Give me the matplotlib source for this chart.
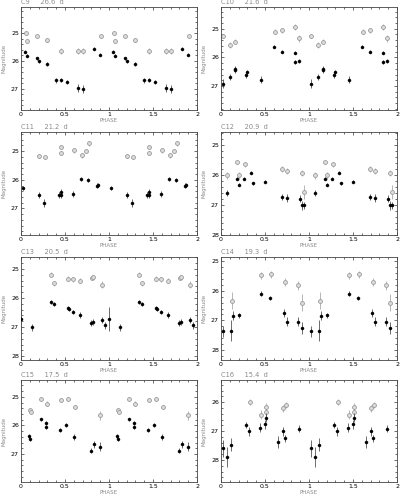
import matplotlib.pyplot as plt
import matplotlib.ticker as mticker
import numpy as np

# panel names and periods
names = ["C9", "C10", "C11", "C12", "C13", "C14", "C15", "C16"]
periods = ["26.6", "21.6", "21.2", "20.9", "20.5", "19.3", "17.5", "15.4"]
ylims = [(27.77, 24.05), (27.84, 24.24), (27.93, 24.33), (28.0, 24.55),
         (28.13, 24.59), (28.35, 24.85), (27.98, 24.41), (28.76, 25.23)]

# black points (phase 0-1, magnitude, error)
c9_ph_b = [0.05, 0.065, 0.18, 0.20, 0.29, 0.40, 0.46, 0.52, 0.65, 0.71, 0.835, 0.90]
c9_mag_b = [25.67, 25.81, 25.90, 26.01, 26.11, 26.70, 26.68, 26.76, 26.98, 27.01, 25.55, 25.77]
c9_err_b = [0.05, 0.05, 0.05, 0.05, 0.06, 0.08, 0.08, 0.06, 0.15, 0.15, 0.04, 0.05]
c9_ph_g = [0.057, 0.07, 0.18, 0.29, 0.46, 0.65, 0.71, 0.91]
c9_mag_g = [25.0, 25.29, 25.10, 25.23, 25.63, 25.63, 25.64, 25.11]
c9_err_g = [0.06, 0.06, 0.07, 0.07, 0.10, 0.10, 0.10, 0.07]

c10_ph_b = [0.027, 0.106, 0.163, 0.163, 0.285, 0.29, 0.45, 0.60, 0.69, 0.84, 0.84, 0.885]
c10_mag_b = [26.92, 26.69, 26.45, 26.40, 26.63, 26.52, 26.78, 25.63, 25.80, 25.84, 26.17, 26.13]
c10_err_b = [0.15, 0.10, 0.10, 0.10, 0.08, 0.08, 0.12, 0.05, 0.05, 0.05, 0.07, 0.06]
c10_ph_g = [0.027, 0.106, 0.163, 0.61, 0.69, 0.84, 0.885]
c10_mag_g = [25.25, 25.57, 25.45, 25.10, 25.06, 24.93, 25.33]
c10_err_g = [0.08, 0.10, 0.08, 0.08, 0.10, 0.10, 0.12]

c11_ph_b = [0.027, 0.205, 0.266, 0.43, 0.45, 0.45, 0.59, 0.68, 0.76, 0.865, 0.87]
c11_mag_b = [26.28, 26.53, 26.81, 26.52, 26.53, 26.42, 26.50, 25.97, 26.01, 26.20, 26.17]
c11_err_b = [0.06, 0.12, 0.14, 0.10, 0.12, 0.10, 0.10, 0.06, 0.06, 0.07, 0.07]
c11_ph_g = [0.21, 0.27, 0.45, 0.45, 0.60, 0.69, 0.735, 0.77]
c11_mag_g = [25.17, 25.20, 24.86, 25.06, 24.97, 25.15, 24.98, 24.73]
c11_err_g = [0.08, 0.08, 0.08, 0.08, 0.08, 0.08, 0.07, 0.08]

c12_ph_b = [0.065, 0.18, 0.205, 0.265, 0.34, 0.36, 0.50, 0.695, 0.745, 0.90, 0.92, 0.94]
c12_mag_b = [26.59, 26.11, 26.31, 26.11, 25.92, 26.27, 26.22, 26.72, 26.76, 26.79, 27.0, 27.0]
c12_err_b = [0.10, 0.05, 0.06, 0.06, 0.05, 0.06, 0.05, 0.10, 0.12, 0.12, 0.15, 0.12]
c12_ph_g = [0.07, 0.18, 0.205, 0.27, 0.695, 0.75, 0.92, 0.94]
c12_mag_g = [26.0, 25.55, 26.0, 25.63, 25.80, 25.87, 25.91, 26.56]
c12_err_g = [0.12, 0.07, 0.12, 0.08, 0.10, 0.10, 0.10, 0.25]

c13_ph_b = [0.005, 0.12, 0.34, 0.37, 0.53, 0.54, 0.59, 0.67, 0.80, 0.815, 0.92, 0.95]
c13_mag_b = [26.72, 27.0, 26.14, 26.21, 26.34, 26.37, 26.47, 26.58, 26.87, 26.82, 26.76, 26.94]
c13_err_b = [0.40, 0.12, 0.06, 0.06, 0.07, 0.07, 0.07, 0.10, 0.10, 0.10, 0.10, 0.12]
c13_ph_g = [0.34, 0.37, 0.53, 0.59, 0.67, 0.81, 0.815, 0.92]
c13_mag_g = [25.20, 25.50, 25.33, 25.36, 25.40, 25.30, 25.28, 25.55]
c13_err_g = [0.08, 0.10, 0.10, 0.08, 0.10, 0.08, 0.08, 0.12]

c14_ph_b = [0.027, 0.11, 0.133, 0.20, 0.46, 0.56, 0.72, 0.755, 0.87, 0.915]
c14_mag_b = [27.38, 27.35, 26.85, 26.83, 26.10, 26.25, 26.75, 27.05, 27.05, 27.27]
c14_err_b = [0.20, 0.35, 0.15, 0.08, 0.08, 0.07, 0.15, 0.15, 0.15, 0.20]
c14_ph_g = [0.125, 0.46, 0.565, 0.725, 0.87, 0.92]
c14_mag_g = [26.33, 25.47, 25.43, 25.70, 25.81, 26.40]
c14_err_g = [0.30, 0.12, 0.12, 0.15, 0.15, 0.30]

c15_ph_b = [0.095, 0.106, 0.228, 0.285, 0.28, 0.44, 0.516, 0.60, 0.79, 0.83, 0.90]
c15_mag_b = [26.38, 26.48, 25.79, 25.92, 26.06, 26.16, 25.98, 26.41, 26.88, 26.66, 26.74]
c15_err_b = [0.08, 0.08, 0.06, 0.08, 0.08, 0.07, 0.07, 0.10, 0.10, 0.12, 0.15]
c15_ph_g = [0.10, 0.118, 0.23, 0.29, 0.45, 0.53, 0.61, 0.90]
c15_mag_g = [25.47, 25.54, 25.06, 25.24, 25.12, 25.07, 25.35, 25.65]
c15_err_g = [0.07, 0.07, 0.07, 0.08, 0.07, 0.07, 0.08, 0.15]

c16_ph_b = [0.02, 0.07, 0.11, 0.28, 0.32, 0.445, 0.505, 0.515, 0.65, 0.70, 0.73, 0.89]
c16_mag_b = [27.60, 27.90, 27.47, 26.78, 27.01, 26.88, 26.77, 26.53, 27.37, 27.01, 27.25, 26.92]
c16_err_b = [0.30, 0.35, 0.22, 0.10, 0.15, 0.15, 0.15, 0.15, 0.20, 0.15, 0.12, 0.12]
c16_ph_g = [0.325, 0.45, 0.515, 0.51, 0.70, 0.735]
c16_mag_g = [26.0, 26.43, 26.17, 26.35, 26.21, 26.09]
c16_err_g = [0.10, 0.15, 0.15, 0.15, 0.12, 0.10]

black = [(c9_ph_b, c9_mag_b, c9_err_b), (c10_ph_b, c10_mag_b, c10_err_b),
         (c11_ph_b, c11_mag_b, c11_err_b), (c12_ph_b, c12_mag_b, c12_err_b),
         (c13_ph_b, c13_mag_b, c13_err_b), (c14_ph_b, c14_mag_b, c14_err_b),
         (c15_ph_b, c15_mag_b, c15_err_b), (c16_ph_b, c16_mag_b, c16_err_b)]
gray = [(c9_ph_g, c9_mag_g, c9_err_g), (c10_ph_g, c10_mag_g, c10_err_g),
        (c11_ph_g, c11_mag_g, c11_err_g), (c12_ph_g, c12_mag_g, c12_err_g),
        (c13_ph_g, c13_mag_g, c13_err_g), (c14_ph_g, c14_mag_g, c14_err_g),
        (c15_ph_g, c15_mag_g, c15_err_g), (c16_ph_g, c16_mag_g, c16_err_g)]

W, H = 400, 498
fig = plt.figure(figsize=(W / 100, H / 100), dpi=100)

lefts = [21, 221]
tops = [7, 132, 257, 380]
aw, ah = 176, 103
txt_gray = "#8a8a8a"

for i in range(8):
    row, col = i // 2, i % 2
    h = ah if row < 3 else 102
    ax = fig.add_axes([lefts[col] / W, 1 - (tops[row] + h) / H, aw / W, h / H])

    # gray band: phase 0-1 plus repeat 1-2
    ph, mag, err = [np.array(a) for a in gray[i]]
    ph2 = np.concatenate([ph, ph + 1])
    ax.errorbar(ph2, np.tile(mag, 2), yerr=np.tile(err, 2), fmt="o", ms=2.8,
                mfc="#dddddd", mec="#9a9a9a", mew=0.6, ecolor="#aaaaaa",
                elinewidth=0.6, capsize=0, zorder=2)

    ph, mag, err = [np.array(a) for a in black[i]]
    ph2 = np.concatenate([ph, ph + 1])
    ax.errorbar(ph2, np.tile(mag, 2), yerr=np.tile(err, 2), fmt="o", ms=2.2,
                mfc="black", mec="black", mew=0.3, ecolor="#555555",
                elinewidth=0.6, capsize=0, zorder=3)

    ax.set_xlim(0, 2)
    ax.set_ylim(*ylims[i])
    ax.xaxis.set_major_locator(mticker.FixedLocator([0, 0.5, 1, 1.5, 2]))
    ax.xaxis.set_major_formatter(mticker.FixedFormatter(["0", "0.5", "1", "1.5", "2"]))
    ax.xaxis.set_minor_locator(mticker.MultipleLocator(0.1))
    ax.yaxis.set_major_locator(mticker.MultipleLocator(1))
    ax.yaxis.set_minor_locator(mticker.MultipleLocator(0.2))
    ax.tick_params(which="both", direction="in", top=True, right=True,
                   width=0.5, colors="#333333", labelcolor="black")
    ax.tick_params(which="major", length=2.5, labelsize=4.5, pad=1.5)
    ax.tick_params(which="minor", length=1.3)
    for s in ax.spines.values():
        s.set_linewidth(0.6)
        s.set_color("#444444")

    ax.set_xlabel("PHASE", fontsize=4, color=txt_gray, labelpad=0.8)
    ax.set_ylabel("Magnitude", fontsize=4, color=txt_gray, labelpad=3)
    ax.text(0, 1.015, names[i] + "     " + periods[i] + "  d", transform=ax.transAxes,
            fontsize=4.8, color=txt_gray, ha="left", va="bottom")

plt.savefig("out.png", dpi=100)
